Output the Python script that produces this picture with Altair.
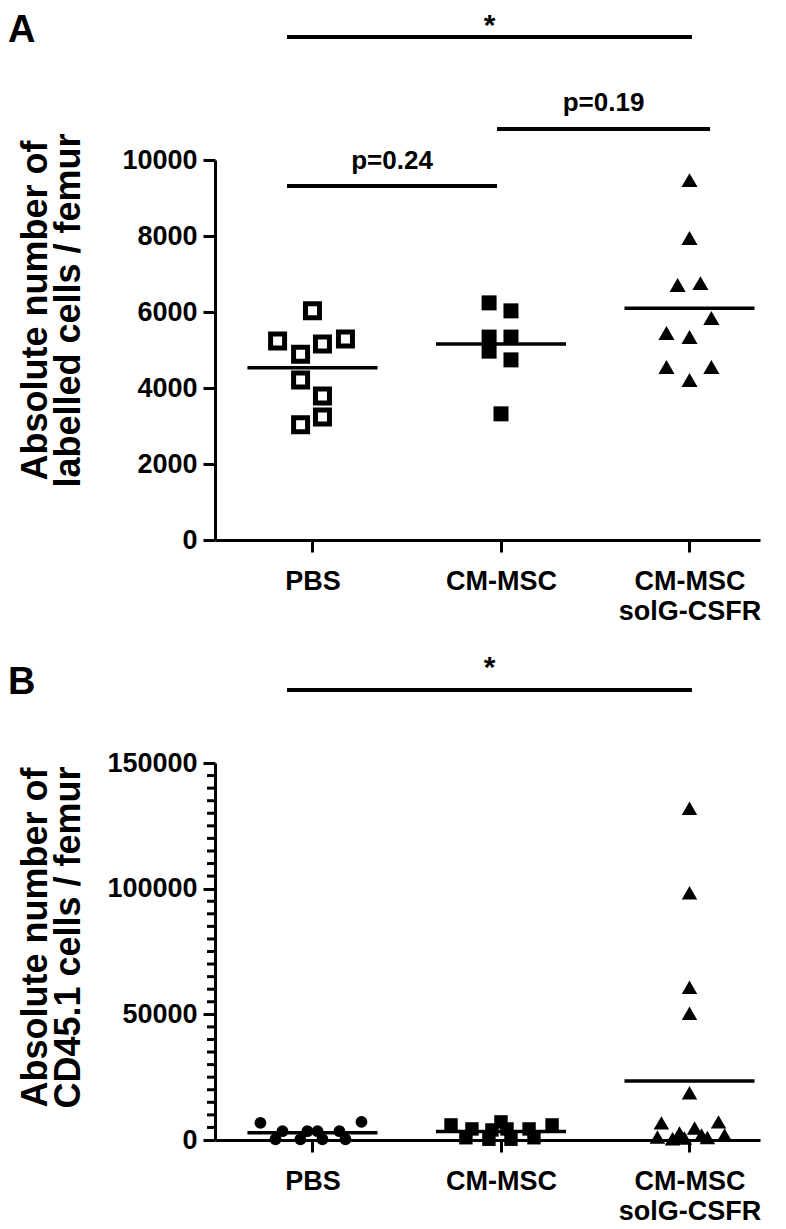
import json
import altair as alt
import pandas as pd

FONT = "Liberation Sans"

# ---------------- categories ----------------
groups = ["PBS", "CM-MSC", "CM-MSC\nsolG-CSFR"]
positions = [1, 2, 3]

# ---------------- Panel A: labelled cells / femur ----------------
a_pbs_y = [6030, 5240, 4890, 5160, 5290, 4210, 3790, 3240, 3030]
a_pbs_dx = [0.0, -0.185, -0.063, 0.053, 0.175, -0.063, 0.053, 0.053, -0.063]
a_cm_y = [6240, 6030, 5340, 4970, 5340, 4740, 3320]
a_cm_dx = [-0.063, 0.053, -0.063, -0.063, 0.053, 0.053, 0.0]
a_sol_y = [9470, 7950, 6710, 6760, 5840, 5450, 5340, 4550, 4550, 4210]
a_sol_dx = [0.0, 0.0, -0.063, 0.058, 0.116, -0.122, 0.0, -0.122, 0.116, 0.0]
a_means = [4530, 5160, 6100]
a_major_ticks = [0, 2000, 4000, 6000, 8000, 10000]
a_minor_ticks = []

a_sig_x1 = [0.865, 1.979, 0.865]
a_sig_x2 = [3.013, 3.109, 1.979]
a_sig_y = [13237, 10816, 9316]
a_sig_text = ["*", "p=0.19", "p=0.24"]
a_sig_text_y = [13526, 11500, 9974]

# ---------------- Panel B: CD45.1 cells / femur ----------------
b_pbs_y = [6800, 300, 3500, 300, 3500, 3500, 300, 3500, 300, 7200]
b_pbs_dx = [-0.276, -0.196, -0.159, -0.064, -0.027, 0.027, 0.053, 0.143, 0.175, 0.26]
b_cm_y = [6000, 900, 4400, 300, 4000, 7200, 4400, 300, 4400, 900, 6000]
b_cm_dx = [-0.265, -0.186, -0.154, -0.064, -0.048, 0.0, 0.032, 0.053, 0.149, 0.175, 0.271]
b_sol_y = [132000, 98400, 60800, 50400, 18800, 6800, 7200, 1200, 2800, 800, 4800, 2000, 2000, 500, 1000]
b_sol_dx = [0.0, 0.0, 0.0, 0.0, 0.0, -0.149, 0.154, -0.17, -0.053, -0.027, 0.027, 0.064, 0.186, -0.09, 0.095]
b_means = [2900, 3400, 23500]
b_major_ticks = [0, 50000, 100000, 150000]
b_minor_ticks = [v for v in range(0, 150001, 5000) if v % 50000 != 0]

b_sig_x1 = [0.865]
b_sig_x2 = [3.013]
b_sig_y = [179000]
b_sig_text = ["*"]
b_sig_text_y = [187800]

MEAN_HALF = 0.345
X_DOMAIN = [0.483, 3.374]
MINOR_TICK_LEN = 8


def pts(pos, ys, dxs):
    return pd.DataFrame({"x": [pos + d for d in dxs], "y": ys})


label_expr = json.dumps([g.split("\n") for g in groups]) + "[datum.value - 1]"

x_enc = alt.X(
    "x:Q",
    scale=alt.Scale(domain=X_DOMAIN, nice=False, zero=False),
    axis=alt.Axis(
        values=positions,
        labelExpr=label_expr,
        title=None,
        tickSize=12,
        labelPadding=16,
        labelLineHeight=30,
        labelFontSize=27,
    ),
)


def panel(pbs, cm, sol, means, sig, letter, domain, major, minor, title, title_pad, title_y,
          width, height, letter_y):
    yscale = alt.Scale(domain=domain, nice=False, zero=True)
    y_major = alt.Y("y:Q", scale=yscale, axis=alt.Axis(
        values=major, format="d", title=title, titlePadding=title_pad, titleY=title_y,
        tickSize=12, orient="left"))
    y_none = alt.Y("y:Q", scale=yscale, axis=None)
    layers = []
    for i, spec in enumerate((pbs, cm, sol)):
        layers.append(
            alt.Chart(spec[0]).mark_point(shape=spec[1], filled=spec[2], size=spec[3], strokeWidth=spec[4],
                                          color="black", opacity=1).encode(
                x=x_enc, y=y_major if i == 0 else y_none)
        )
    # minor ticks of the y axis, placed through the y scale
    if minor:
        mt = pd.DataFrame({"y": minor})
        layers.append(
            alt.Chart(mt).mark_rule(color="black", strokeWidth=3).encode(
                y=y_none, x=alt.value(-MINOR_TICK_LEN), x2=alt.value(0))
        )
    # mean lines
    mdf = pd.DataFrame({
        "x": [p - MEAN_HALF for p in positions],
        "x2": [p + MEAN_HALF for p in positions],
        "y": means,
    })
    layers.append(alt.Chart(mdf).mark_rule(color="black", strokeWidth=3.5).encode(x=x_enc, x2="x2:Q", y=y_none))
    # significance bars
    sdf = pd.DataFrame({"x": sig[0], "x2": sig[1], "y": sig[2]})
    layers.append(alt.Chart(sdf).mark_rule(color="black", strokeWidth=4).encode(x=x_enc, x2="x2:Q", y=y_none))
    tdf = pd.DataFrame({
        "x": [(a + b) / 2 for a, b in zip(sig[0], sig[1])],
        "y": sig[4],
        "t": sig[3],
        "s": [30 if t == "*" else 26 for t in sig[3]],
    })
    layers.append(
        alt.Chart(tdf).mark_text(font=FONT, fontWeight="bold", color="black",
                                 baseline="middle", align="center").encode(
            x=x_enc, y=y_none, text="t:N", size=alt.Size("s:Q", scale=None, legend=None))
    )
    # panel letter
    ldf = pd.DataFrame({"t": [letter]})
    layers.append(
        alt.Chart(ldf).mark_text(font=FONT, fontWeight="bold", fontSize=38, color="black",
                                 baseline="middle", align="left").encode(
            text="t:N", x=alt.value(-207), y=alt.value(letter_y))
    )
    return alt.layer(*layers).resolve_axis(y="independent").properties(width=width, height=height)


A = panel(
    (pts(1, a_pbs_y, a_pbs_dx), "square", False, 196, 5),
    (pts(2, a_cm_y, a_cm_dx), "square", True, 225, 0),
    (pts(3, a_sol_y, a_sol_dx), "triangle-up", True, 260, 0),
    a_means,
    (a_sig_x1, a_sig_x2, a_sig_y, a_sig_text, a_sig_text_y),
    "A", [0, 10000], a_major_ticks, a_minor_ticks,
    ["Absolute number of", "labelled cells / femur"], 34, 150,
    545, 380, -129,
)

B = panel(
    (pts(1, b_pbs_y, b_pbs_dx), "circle", True, 140, 0),
    (pts(2, b_cm_y, b_cm_dx), "square", True, 180, 0),
    (pts(3, b_sol_y, b_sol_dx), "triangle-up", True, 240, 0),
    b_means,
    (b_sig_x1, b_sig_x2, b_sig_y, b_sig_text, b_sig_text_y),
    "B", [0, 150000], b_major_ticks, b_minor_ticks,
    ["Absolute number of", "CD45.1 cells / femur"], 19, 174,
    545, 377, -80,
)

chart = alt.vconcat(A, B, spacing=28).properties(
    padding={"top": 3, "left": 0, "right": 0, "bottom": 0}
).configure_view(stroke=None).configure_axis(
    domainColor="black",
    domainWidth=3,
    tickColor="black",
    tickWidth=3,
    grid=False,
    labelFont=FONT,
    labelFontWeight="bold",
    labelFontSize=27,
    labelColor="black",
    titleFont=FONT,
    titleFontWeight="bold",
    titleFontSize=36,
    titleColor="black",
    titleLineHeight=33,
    labelPadding=6,
)

chart.save("out.html", embed_options={"renderer": "svg", "actions": False})
